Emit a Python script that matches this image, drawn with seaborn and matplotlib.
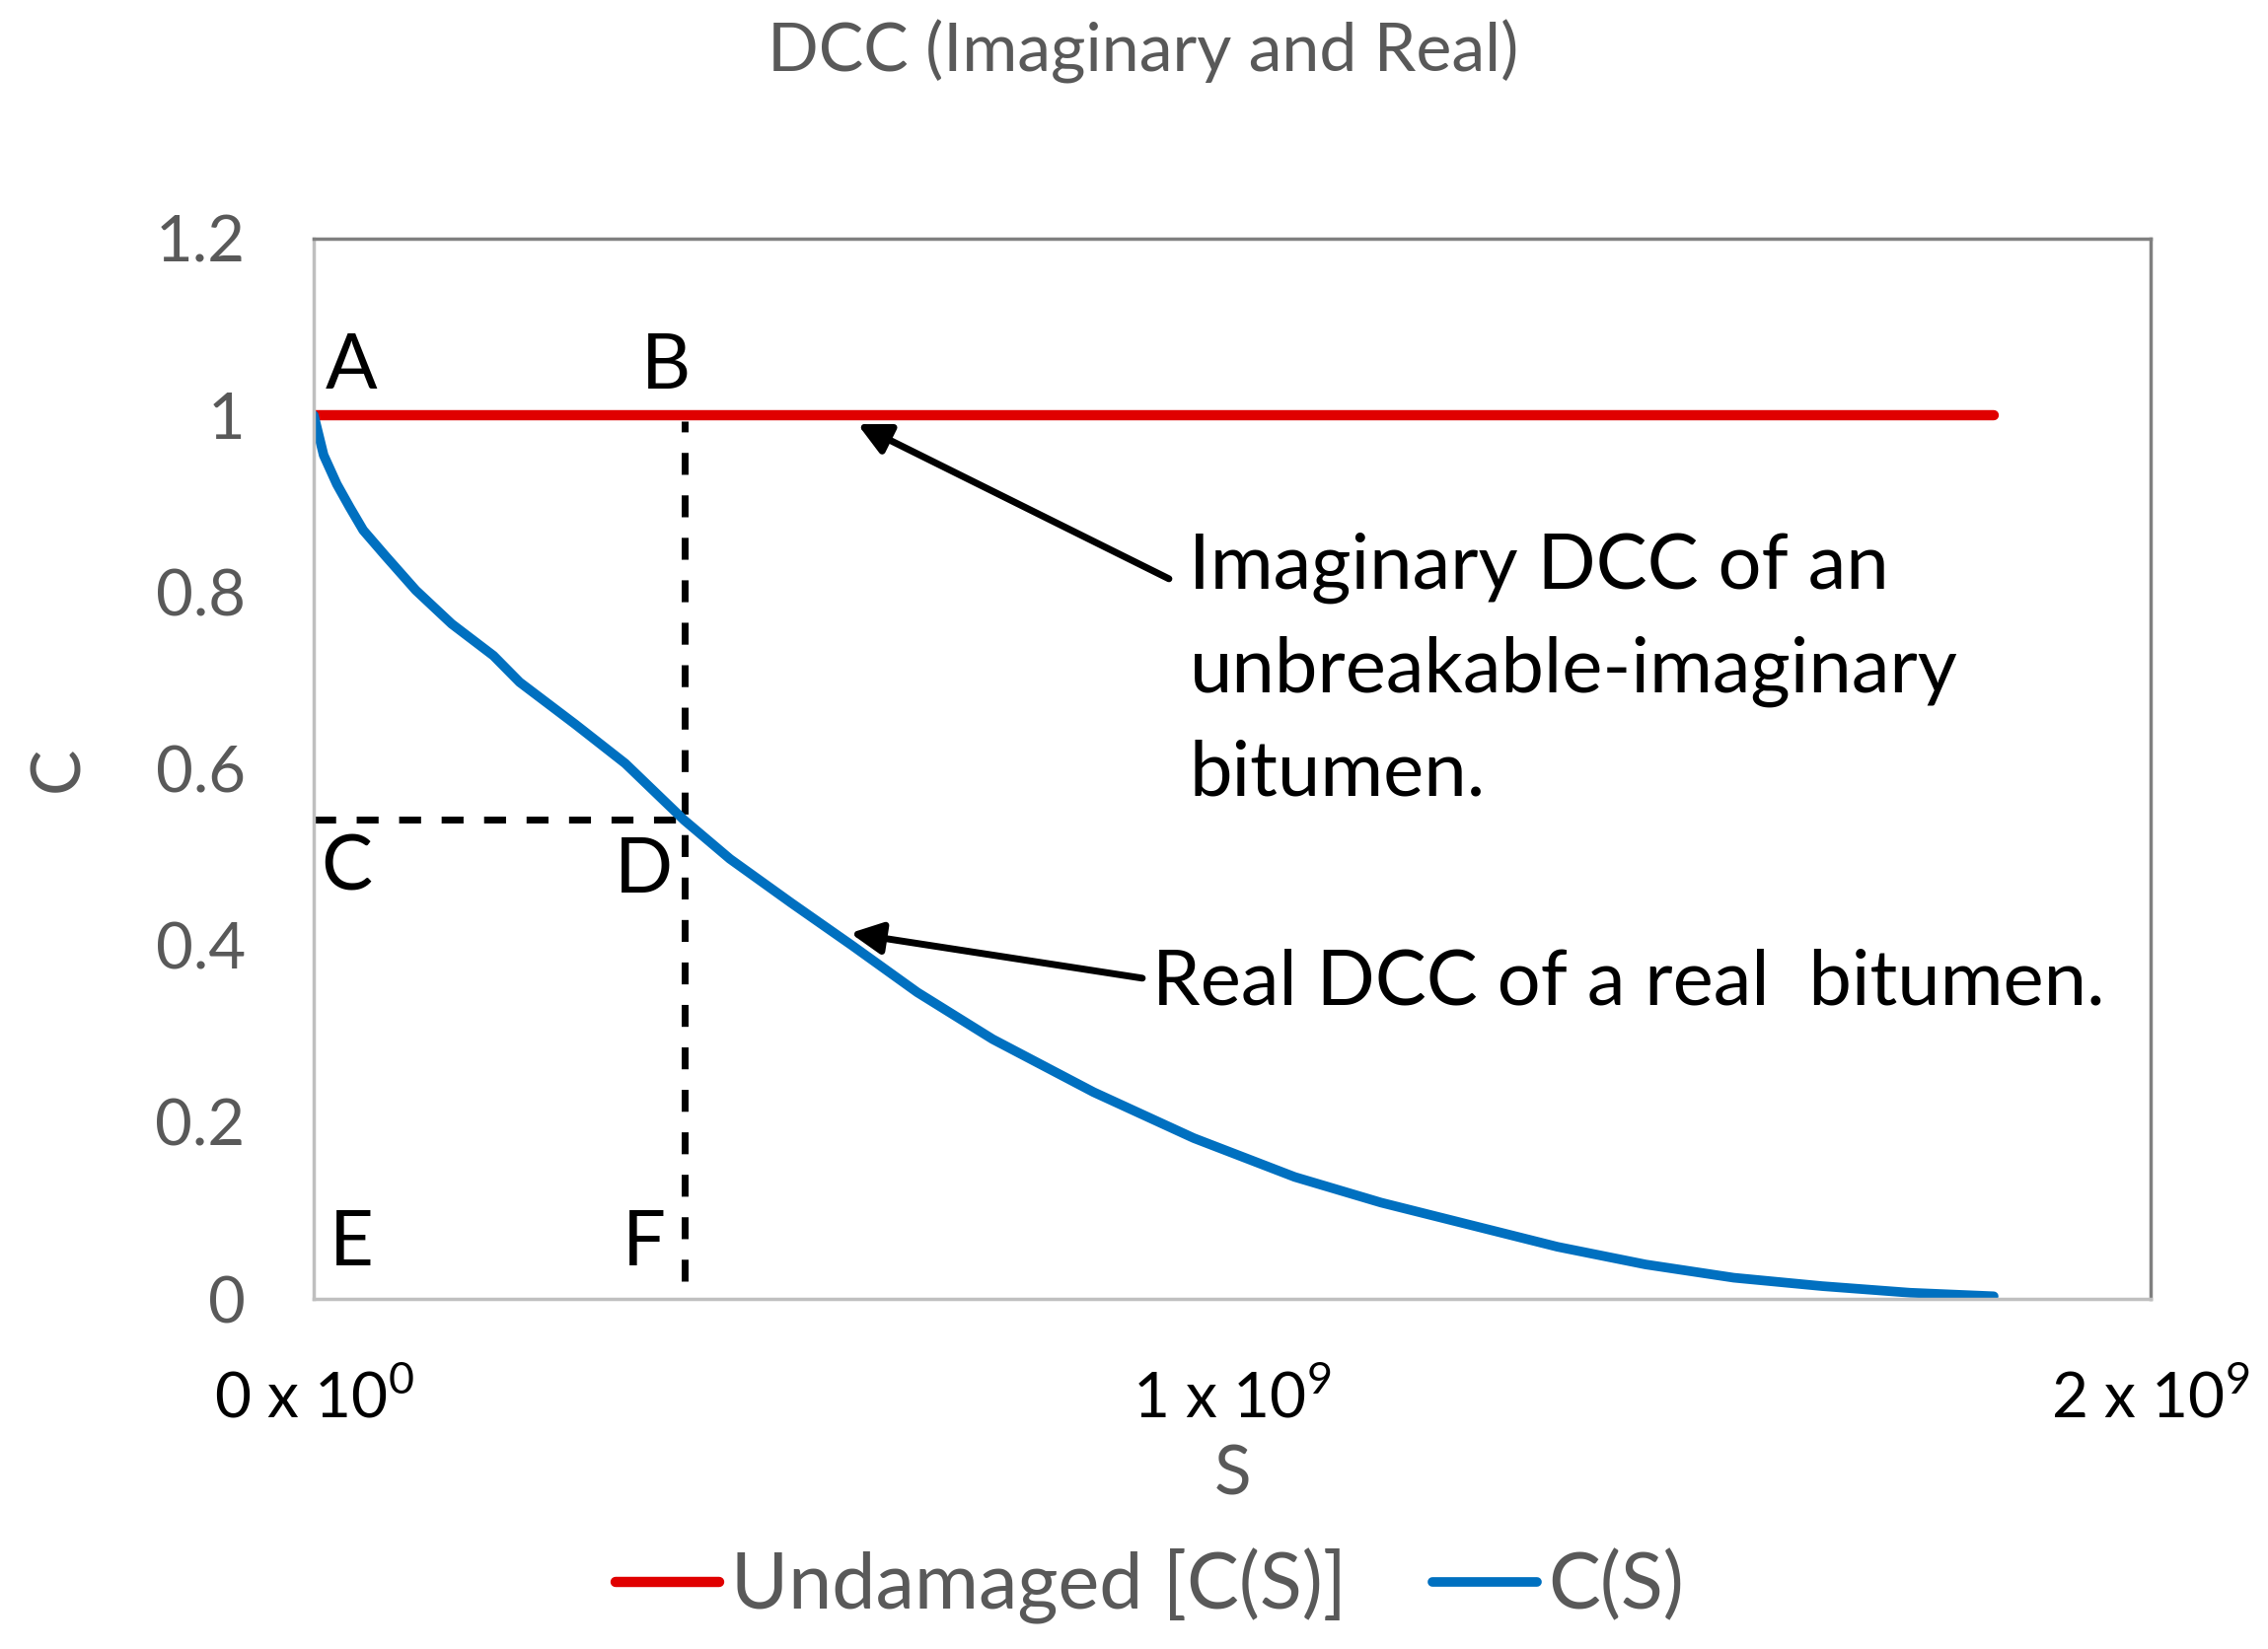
import numpy as np
import pandas as pd
import matplotlib
matplotlib.use("Agg")
import matplotlib.pyplot as plt
import seaborn as sns

# ---------------- data ----------------
title = "DCC (Imaginary and Real)"
x_label = "S"
y_label = "C"

# Undamaged (imaginary) DCC
undamaged_S = [0.0, 1.829e9]
undamaged_C = [1.0, 1.0]

# Real DCC C(S)
real_S = [0.0, 0.0106e9, 0.025e9, 0.039e9, 0.0537e9, 0.0778e9, 0.111e9, 0.150e9,
          0.1955e9, 0.224e9, 0.285e9, 0.339e9, 0.403e9, 0.453e9, 0.520e9, 0.586e9,
          0.657e9, 0.739e9, 0.849e9, 0.958e9, 1.068e9, 1.162e9, 1.258e9,
          1.354e9, 1.450e9, 1.546e9, 1.642e9, 1.738e9, 1.829e9]
real_C = [1.0, 0.955, 0.922, 0.896, 0.870, 0.841, 0.802, 0.764,
          0.728, 0.698, 0.650, 0.606, 0.542, 0.498, 0.448, 0.400,
          0.347, 0.294, 0.234, 0.182, 0.138, 0.109, 0.084,
          0.059, 0.039, 0.024, 0.0145, 0.007, 0.003]

series_names = ["Undamaged [C(S)]", "C(S)"]
series_colors = ["#E00000", "#0070C0"]
series_widths = [7.5, 7.0]

# reference point D
point_D_S = 0.404e9
point_D_C = 0.543
dash_bottom_C = 0.02

x_ticks = [0.0, 1e9, 2e9]
x_tick_labels = [r"0 x 10$^{0}$", r"1 x 10$^{9}$", r"2 x 10$^{9}$"]
y_ticks = [0, 0.2, 0.4, 0.6, 0.8, 1.0, 1.2]
y_tick_labels = ["0", "0.2", "0.4", "0.6", "0.8", "1", "1.2"]

letters = ["A", "B", "C", "D", "E", "F"]
letters_S = [0.041e9, 0.383e9, 0.036e9, 0.359e9, 0.041e9, 0.359e9]
letters_C = [1.054, 1.054, 0.487, 0.484, 0.062, 0.062]

note1_text = "Imaginary DCC of an\nunbreakable-imaginary\nbitumen."
note1_tip = (0.592e9, 0.990)
note1_tail = (0.931e9, 0.815)
note1_pos = (0.953e9, 0.868)

note2_text = "Real DCC of a real  bitumen."
note2_tip = (0.584e9, 0.414)
note2_tail = (0.902e9, 0.363)
note2_pos = (0.913e9, 0.357)

# ---------------- style ----------------
sns.set_theme(style="white")
FONT = ["Lato", "DejaVu Sans"]
plt.rcParams["font.family"] = FONT
plt.rcParams["mathtext.fontset"] = "custom"
plt.rcParams["mathtext.rm"] = "Lato"
plt.rcParams["mathtext.it"] = "Lato:italic"
plt.rcParams["mathtext.bf"] = "Lato:bold"

GRAY_TXT = "#595959"

fig = plt.figure(figsize=(22.99, 16.72), dpi=100)
ax = fig.add_axes([0.1384, 0.2123, 0.8099, 0.6430])

df = pd.concat([
    pd.DataFrame({"S": undamaged_S, "C": undamaged_C, "series": series_names[0]}),
    pd.DataFrame({"S": real_S, "C": real_C, "series": series_names[1]}),
], ignore_index=True)

sns.lineplot(data=df, x="S", y="C", hue="series", hue_order=series_names,
             palette=series_colors, ax=ax, legend=True,
             estimator=None, sort=False)
for ln, w in zip(ax.lines[:2], series_widths):
    ln.set_linewidth(w)
    ln.set_solid_capstyle("round")
    ln.set_solid_joinstyle("round")

# dashed guide lines
dash = (0, (3.2, 3.0))
ax.plot([point_D_S, point_D_S], [dash_bottom_C, 0.993], ls=dash, color="black", lw=5, zorder=1)
ax.plot([0, point_D_S], [point_D_C, point_D_C], ls=dash, color="black", lw=5, zorder=1)

ax.set_xlim(0, 2e9)
ax.set_ylim(0, 1.2)
ax.set_xticks(x_ticks)
ax.set_xticklabels(x_tick_labels)
ax.set_yticks(y_ticks)
ax.set_yticklabels(y_tick_labels)
ax.tick_params(axis="x", direction="inout", length=32, width=2, color="#BFBFBF",
               labelsize=46, labelcolor="black", pad=35)
ax.tick_params(axis="y", length=0, labelsize=47, labelcolor=GRAY_TXT, pad=50)

for side in ["left", "bottom"]:
    ax.spines[side].set_color("#BFBFBF")
    ax.spines[side].set_linewidth(2.5)
for side in ["top", "right"]:
    ax.spines[side].set_color("#808080")
    ax.spines[side].set_linewidth(2.5)

ax.set_xlabel(x_label, fontsize=50, color=GRAY_TXT, labelpad=12)
ax.set_ylabel(y_label, fontsize=50, color=GRAY_TXT, labelpad=48)
fig.suptitle(title, x=0.504, y=0.988, fontsize=49, color=GRAY_TXT)

for t, s, c in zip(letters, letters_S, letters_C):
    ax.text(s, c, t, fontsize=56, color="black", ha="center", va="center")

arrow_kw = dict(arrowstyle="-|>", color="black", lw=5, mutation_scale=48, shrinkA=0, shrinkB=0)
ax.annotate("", xy=note1_tip, xytext=note1_tail, arrowprops=arrow_kw)
ax.text(note1_pos[0], note1_pos[1], note1_text, fontsize=56, color="black",
        ha="left", va="top", linespacing=1.57)
ax.annotate("", xy=note2_tip, xytext=note2_tail, arrowprops=arrow_kw)
ax.text(note2_pos[0], note2_pos[1], note2_text, fontsize=56, color="black",
        ha="left", va="center")

ax.legend_.remove()
handles, labels = ax.get_legend_handles_labels()
leg = fig.legend(handles, labels, loc="center", bbox_to_anchor=(0.507, 0.038), ncol=2,
                 frameon=False, fontsize=57, handlelength=1.33, handletextpad=0.15,
                 columnspacing=1.1)
for t in leg.get_texts():
    t.set_color(GRAY_TXT)
for l, w in zip(leg.get_lines(), series_widths):
    l.set_linewidth(w)

fig.savefig("out.png", dpi=100)
